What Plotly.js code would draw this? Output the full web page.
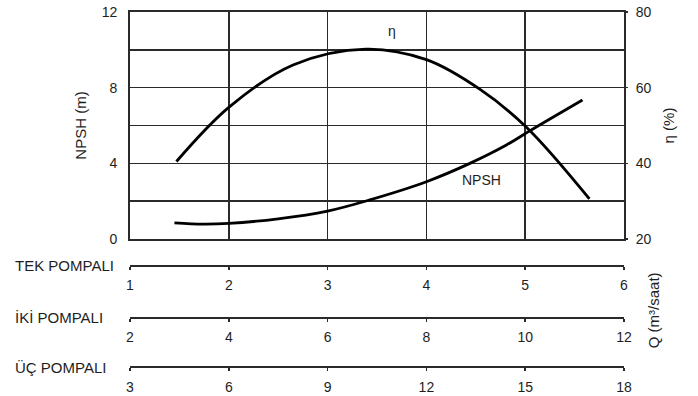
<!DOCTYPE html>
<html>
<head>
<meta charset="utf-8">
<script src="https://cdn.plot.ly/plotly-3.0.1.min.js"></script>
<style>
  html, body { margin: 0; padding: 0; background: #ffffff; }
  #chart { width: 698px; height: 396px; }
</style>
</head>
<body>
<div id="chart"></div>
<script>
// Flow rate for a single pump (m3/saat) and the curves read against it
const etaQ    = [1.47, 2.00, 2.65, 3.39, 4.00, 4.54, 5.01, 5.65];
const etaPct  = [40.5, 54.8, 66.0, 70.2, 67.4, 59.6, 49.6, 30.6];

const npshQ   = [1.45, 1.74, 2.00, 2.50, 3.00, 3.42, 4.00, 4.44, 4.81, 5.05, 5.58];
const npshM   = [0.86, 0.79, 0.83, 1.07, 1.48, 2.06, 3.03, 4.00, 4.97, 5.73, 7.35];

// Left NPSH axis: gridlines every 2 m, labels every 4 m
const npshTicks  = [0, 2, 4, 6, 8, 10, 12];
const npshLabels = ['0', '', '4', '', '8', '', '12'];
// Right efficiency axis
const etaTicks   = [20, 40, 60, 80];

// Flow scales for one, two and three pumps in parallel
const scaleNames = ['TEK POMPALI', 'İKİ POMPALI', 'ÜÇ POMPALI'];
const scaleTicks = [
  [1, 2, 3, 4, 5, 6],
  [2, 4, 6, 8, 10, 12],
  [3, 6, 9, 12, 15, 18]
];

const ink = '#1e1e1e';
const fontFamily = '"Liberation Sans", Arial, sans-serif';

// Plot geometry (paper fractions)
const mainBottom = 0.383;
const scalePos = [0.313, 0.172, 0.038];

const traces = [
  {
    x: etaQ, y: etaPct, xaxis: 'x', yaxis: 'y2',
    mode: 'lines', line: {color: '#000', width: 2.8, shape: 'spline', smoothing: 1},
    hoverinfo: 'skip', showlegend: false
  },
  {
    x: npshQ, y: npshM, xaxis: 'x', yaxis: 'y',
    mode: 'lines', line: {color: '#000', width: 2.8, shape: 'spline', smoothing: 1},
    hoverinfo: 'skip', showlegend: false
  }
];

// Invisible carriers so each flow scale axis is built
scaleTicks.forEach((t, i) => {
  traces.push({
    x: [t[0], t[t.length - 1]], y: [null, null],
    xaxis: 'x' + (i + 2), yaxis: 'y',
    mode: 'lines', line: {width: 0}, opacity: 0,
    hoverinfo: 'skip', showlegend: false
  });
});

const layout = {
  width: 698, height: 396,
  margin: {l: 130, r: 74, t: 12, b: 16},
  paper_bgcolor: '#ffffff', plot_bgcolor: '#ffffff',
  font: {family: fontFamily, size: 14, color: ink},
  showlegend: false,
  xaxis: {
    range: [1, 6], dtick: 1, tick0: 1,
    showgrid: true, gridcolor: '#2a2a2a', gridwidth: 1.5,
    showticklabels: false, ticks: '',
    showline: true, linecolor: '#2a2a2a', linewidth: 1.8, mirror: true,
    zeroline: false, anchor: 'y'
  },
  yaxis: {
    domain: [mainBottom, 1], range: [0, 12],
    tickmode: 'array', tickvals: npshTicks, ticktext: npshLabels,
    showgrid: true, gridcolor: '#2a2a2a', gridwidth: 1.5,
    ticks: '', ticklabelstandoff: 8,
    showline: true, linecolor: '#2a2a2a', linewidth: 1.8, mirror: true,
    zeroline: false,
    title: {text: 'NPSH (m)', standoff: 11, font: {size: 15, color: ink}}
  },
  yaxis2: {
    domain: [mainBottom, 1], range: [20, 80],
    overlaying: 'y', side: 'right', anchor: 'x',
    tickmode: 'array', tickvals: etaTicks,
    showgrid: false, zeroline: false,
    ticks: 'outside', ticklen: 3, tickwidth: 1.5, tickcolor: '#2a2a2a',
    ticklabelstandoff: 5,
    title: {text: 'η (%)', standoff: 12, font: {size: 15, color: ink}}
  },
  annotations: [
    {x: 3.65, y: 10.97, xref: 'x', yref: 'y', text: 'η', showarrow: false,
     font: {size: 14, color: ink}},
    {x: 4.56, y: 3.12, xref: 'x', yref: 'y', text: 'NPSH', showarrow: false,
     font: {size: 14, color: ink}},
    {x: 1.059, y: 0.19, xref: 'paper', yref: 'paper', text: 'Q (m³/saat)',
     xanchor: 'center', yanchor: 'middle',
     textangle: -90, showarrow: false, font: {size: 15, color: ink}}
  ]
};

scaleTicks.forEach((t, i) => {
  layout['xaxis' + (i + 2)] = {
    range: [t[0], t[t.length - 1]],
    tickmode: 'array', tickvals: t,
    overlaying: 'x', anchor: 'free', position: scalePos[i], side: 'bottom',
    showgrid: false, zeroline: false,
    showline: true, linecolor: '#2a2a2a', linewidth: 1.8,
    ticks: 'outside', ticklen: 3, tickwidth: 1.5, tickcolor: '#2a2a2a',
    ticklabelstandoff: 4
  };
  layout.annotations.push({
    x: -0.2368, y: scalePos[i], xref: 'paper', yref: 'paper',
    xanchor: 'left', yanchor: 'middle', yshift: -1,
    text: scaleNames[i], showarrow: false, font: {size: 15, color: ink}
  });
});

Plotly.newPlot('chart', traces, layout, {staticPlot: true, displayModeBar: false});
</script>
</body>
</html>
